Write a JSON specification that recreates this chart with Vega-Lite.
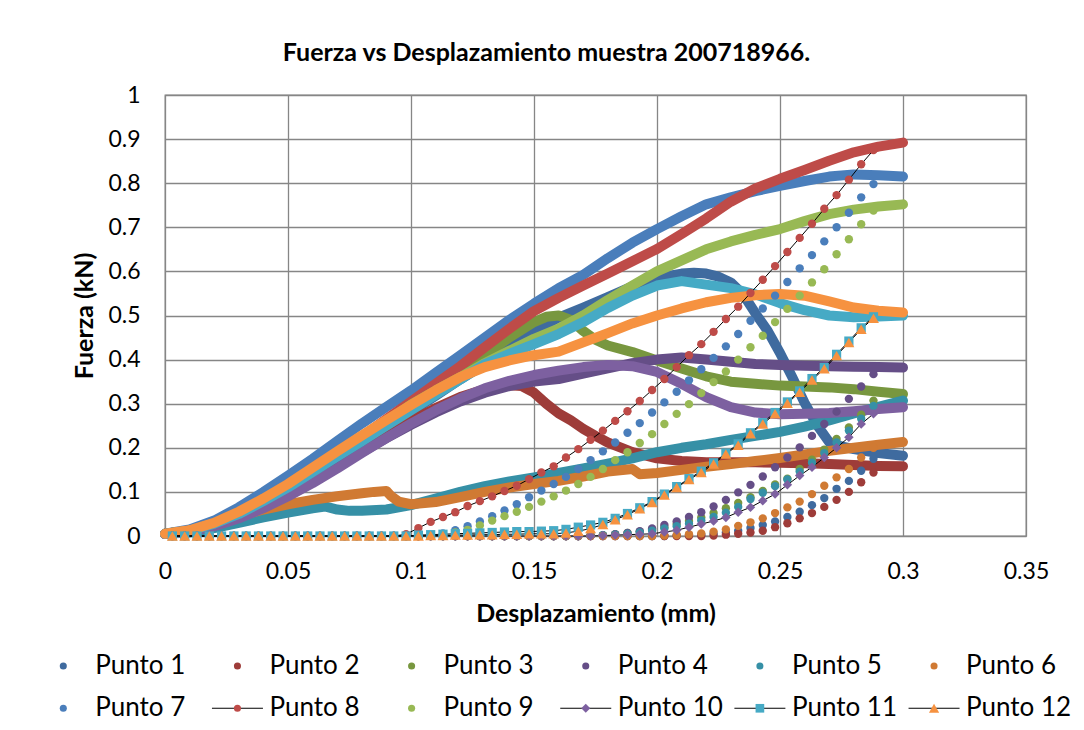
{
  "$schema": "https://vega.github.io/schema/vega-lite/v6.json",
  "autosize": {"type": "none"},
  "padding": {"left": 165, "top": 95, "right": 58, "bottom": 194},
  "width": 861,
  "height": 441,
  "background": "white",
  "title": {"text": "Fuerza vs Desplazamiento muestra 200718966.", "anchor": "middle", "frame": "group", "dx": -49, "offset": 18},
  "config": {
    "font": "Lato",
    "view": {"stroke": "#868686", "strokeWidth": 1.3},
    "axis": {"gridColor": "#868686", "gridWidth": 1.3, "gridOpacity": 1, "domain": false, "ticks": false, "labelColor": "#000000", "titleColor": "#000000", "labelFont": "Lato", "titleFont": "Lato", "labelFontSize": 23, "titleFontSize": 25, "titleFontWeight": "bold", "labelFlush": false, "labelOverlap": false, "labelBound": false},
    "title": {"font": "Lato", "fontSize": 25, "fontWeight": "bold", "color": "#000000"}
  },
  "datasets": {
    "dense": [
      {"s": "Punto 1", "x": [0,0.01,0.02,0.03,0.04,0.05,0.06,0.07,0.08,0.09,0.1,0.11,0.12,0.13,0.14,0.15,0.16,0.17,0.18,0.19,0.2,0.21,0.215,0.22,0.225,0.23,0.235,0.24,0.245,0.25,0.255,0.26,0.265,0.27,0.275,0.28,0.29,0.3],
       "y": [0.005,0.012,0.027,0.048,0.075,0.105,0.138,0.172,0.208,0.245,0.282,0.318,0.355,0.39,0.43,0.465,0.495,0.518,0.542,0.566,0.585,0.595,0.597,0.595,0.588,0.575,0.548,0.505,0.465,0.415,0.36,0.302,0.252,0.213,0.203,0.197,0.188,0.182]},
      {"s": "Punto 2", "x": [0,0.01,0.02,0.03,0.04,0.05,0.06,0.07,0.08,0.09,0.1,0.11,0.12,0.13,0.14,0.145,0.15,0.155,0.16,0.165,0.17,0.175,0.18,0.19,0.2,0.21,0.22,0.23,0.24,0.25,0.26,0.27,0.28,0.29,0.3],
       "y": [0.005,0.01,0.023,0.042,0.067,0.097,0.13,0.163,0.197,0.23,0.262,0.29,0.315,0.333,0.342,0.34,0.325,0.3,0.278,0.262,0.243,0.227,0.212,0.19,0.176,0.17,0.167,0.167,0.167,0.166,0.165,0.163,0.161,0.159,0.158]},
      {"s": "Punto 3", "x": [0,0.01,0.02,0.03,0.04,0.05,0.06,0.07,0.08,0.09,0.1,0.11,0.12,0.13,0.14,0.15,0.155,0.16,0.165,0.17,0.175,0.18,0.19,0.2,0.21,0.22,0.23,0.24,0.25,0.26,0.27,0.28,0.29,0.3],
       "y": [0.005,0.012,0.028,0.05,0.078,0.11,0.145,0.182,0.22,0.258,0.295,0.333,0.37,0.41,0.45,0.485,0.497,0.5,0.49,0.465,0.445,0.432,0.417,0.398,0.38,0.362,0.35,0.345,0.341,0.339,0.337,0.333,0.327,0.322]},
      {"s": "Punto 4", "x": [0,0.01,0.02,0.03,0.04,0.05,0.06,0.07,0.08,0.09,0.1,0.11,0.12,0.13,0.14,0.15,0.16,0.17,0.18,0.19,0.2,0.21,0.22,0.23,0.24,0.25,0.26,0.27,0.28,0.29,0.3],
       "y": [0.005,0.01,0.022,0.04,0.064,0.092,0.123,0.157,0.19,0.222,0.252,0.28,0.305,0.325,0.34,0.35,0.356,0.368,0.38,0.392,0.4,0.405,0.4,0.395,0.39,0.388,0.386,0.385,0.384,0.383,0.382]},
      {"s": "Punto 5", "x": [0,0.01,0.02,0.03,0.04,0.05,0.06,0.065,0.07,0.075,0.08,0.09,0.1,0.11,0.12,0.13,0.14,0.15,0.16,0.17,0.18,0.19,0.2,0.21,0.22,0.23,0.24,0.25,0.26,0.27,0.28,0.29,0.3],
       "y": [0.005,0.008,0.018,0.03,0.042,0.053,0.063,0.067,0.06,0.057,0.057,0.06,0.07,0.085,0.1,0.113,0.124,0.133,0.143,0.153,0.164,0.176,0.19,0.2,0.208,0.218,0.227,0.236,0.248,0.262,0.278,0.293,0.307]},
      {"s": "Punto 6", "x": [0,0.01,0.02,0.03,0.04,0.05,0.06,0.07,0.08,0.085,0.09,0.092,0.095,0.1,0.11,0.12,0.13,0.14,0.15,0.16,0.17,0.18,0.19,0.193,0.2,0.21,0.22,0.23,0.24,0.25,0.26,0.27,0.28,0.29,0.3],
       "y": [0.005,0.012,0.028,0.045,0.06,0.072,0.082,0.09,0.097,0.1,0.102,0.09,0.078,0.072,0.077,0.088,0.1,0.11,0.118,0.125,0.135,0.146,0.152,0.14,0.143,0.15,0.157,0.163,0.17,0.177,0.185,0.193,0.2,0.207,0.213]},
      {"s": "Punto 7", "x": [0,0.01,0.02,0.03,0.04,0.05,0.06,0.07,0.08,0.09,0.1,0.11,0.12,0.13,0.14,0.15,0.16,0.17,0.18,0.19,0.2,0.21,0.22,0.23,0.24,0.25,0.26,0.27,0.28,0.29,0.3],
       "y": [0.005,0.015,0.035,0.065,0.1,0.137,0.175,0.215,0.255,0.293,0.33,0.37,0.41,0.45,0.49,0.527,0.562,0.592,0.63,0.665,0.696,0.725,0.752,0.768,0.782,0.794,0.805,0.815,0.82,0.818,0.815]},
      {"s": "Punto 8", "x": [0,0.01,0.02,0.03,0.04,0.05,0.06,0.07,0.08,0.09,0.1,0.11,0.12,0.13,0.14,0.15,0.16,0.17,0.18,0.19,0.2,0.21,0.22,0.23,0.24,0.25,0.26,0.27,0.28,0.29,0.3],
       "y": [0.005,0.012,0.028,0.05,0.078,0.108,0.145,0.185,0.225,0.265,0.305,0.345,0.385,0.428,0.47,0.51,0.54,0.568,0.595,0.623,0.651,0.685,0.72,0.758,0.788,0.81,0.83,0.851,0.87,0.883,0.892]},
      {"s": "Punto 9", "x": [0,0.01,0.02,0.03,0.04,0.05,0.06,0.07,0.08,0.09,0.1,0.11,0.12,0.13,0.14,0.15,0.16,0.17,0.18,0.19,0.2,0.21,0.22,0.23,0.24,0.25,0.26,0.27,0.28,0.29,0.3],
       "y": [0.005,0.012,0.028,0.05,0.08,0.112,0.148,0.185,0.222,0.26,0.298,0.33,0.36,0.392,0.42,0.447,0.47,0.5,0.535,0.568,0.6,0.625,0.65,0.668,0.683,0.696,0.714,0.73,0.74,0.747,0.752]},
      {"s": "Punto 10", "x": [0,0.01,0.02,0.03,0.04,0.05,0.06,0.07,0.08,0.09,0.1,0.11,0.12,0.13,0.14,0.15,0.16,0.17,0.18,0.19,0.2,0.21,0.22,0.23,0.24,0.25,0.26,0.27,0.28,0.29,0.3],
       "y": [0.005,0.01,0.022,0.04,0.063,0.09,0.12,0.153,0.188,0.222,0.255,0.285,0.312,0.335,0.352,0.365,0.375,0.383,0.388,0.385,0.372,0.345,0.315,0.292,0.28,0.276,0.277,0.279,0.283,0.288,0.292]},
      {"s": "Punto 11", "x": [0,0.01,0.02,0.03,0.04,0.05,0.06,0.07,0.08,0.09,0.1,0.11,0.12,0.13,0.14,0.15,0.16,0.17,0.18,0.19,0.2,0.21,0.22,0.23,0.24,0.25,0.26,0.27,0.28,0.29,0.3],
       "y": [0.005,0.012,0.028,0.05,0.079,0.11,0.145,0.18,0.215,0.25,0.285,0.32,0.355,0.39,0.413,0.435,0.458,0.485,0.517,0.545,0.568,0.578,0.57,0.562,0.548,0.528,0.512,0.5,0.496,0.498,0.5]},
      {"s": "Punto 12", "x": [0,0.01,0.02,0.03,0.04,0.05,0.06,0.07,0.08,0.09,0.1,0.11,0.12,0.13,0.14,0.15,0.16,0.17,0.18,0.19,0.2,0.21,0.22,0.23,0.24,0.25,0.26,0.27,0.28,0.29,0.3],
       "y": [0.005,0.013,0.03,0.055,0.085,0.118,0.155,0.192,0.228,0.263,0.297,0.33,0.36,0.383,0.398,0.41,0.418,0.439,0.46,0.482,0.5,0.516,0.53,0.54,0.546,0.549,0.545,0.532,0.518,0.511,0.507]}
    ],
    "sparse": [
      {"s": "Punto 1", "x": [0.003,0.008,0.013,0.018,0.023,0.028,0.033,0.038,0.043,0.048,0.053,0.058,0.063,0.068,0.073,0.078,0.083,0.088,0.093,0.098,0.103,0.108,0.113,0.118,0.123,0.128,0.133,0.138,0.143,0.148,0.153,0.158,0.163,0.168,0.173,0.178,0.183,0.188,0.193,0.198,0.203,0.208,0.213,0.218,0.223,0.228,0.233,0.238,0.243,0.248,0.253,0.258,0.263,0.268,0.273,0.278,0.283,0.288],
       "y": [0,0,0,0,0,0,0,0,0,0,0,0,0,0,0,0,0,0,0,0,0,0,0,0,0,0,0,0,0,0,0,0,0,0,0,0,0,0,0,0,0,0.001,0.002,0.003,0.005,0.008,0.012,0.018,0.025,0.033,0.043,0.055,0.07,0.086,0.107,0.125,0.148,0.175]},
      {"s": "Punto 2", "x": [0.003,0.008,0.013,0.018,0.023,0.028,0.033,0.038,0.043,0.048,0.053,0.058,0.063,0.068,0.073,0.078,0.083,0.088,0.093,0.098,0.103,0.108,0.113,0.118,0.123,0.128,0.133,0.138,0.143,0.148,0.153,0.158,0.163,0.168,0.173,0.178,0.183,0.188,0.193,0.198,0.203,0.208,0.213,0.218,0.223,0.228,0.233,0.238,0.243,0.248,0.253,0.258,0.263,0.268,0.273,0.278,0.283,0.288],
       "y": [0,0,0,0,0,0,0,0,0,0,0,0,0,0,0,0,0,0,0,0,0,0,0,0,0,0,0,0,0,0,0,0,0,0,0,0,0,0,0,0,0,0,0,0,0.001,0.003,0.005,0.008,0.012,0.02,0.029,0.04,0.052,0.066,0.082,0.1,0.122,0.144]},
      {"s": "Punto 3", "x": [0.003,0.008,0.013,0.018,0.023,0.028,0.033,0.038,0.043,0.048,0.053,0.058,0.063,0.068,0.073,0.078,0.083,0.088,0.093,0.098,0.103,0.108,0.113,0.118,0.123,0.128,0.133,0.138,0.143,0.148,0.153,0.158,0.163,0.168,0.173,0.178,0.183,0.188,0.193,0.198,0.203,0.208,0.213,0.218,0.223,0.228,0.233,0.238,0.243,0.248,0.253,0.258,0.263,0.268,0.273,0.278,0.283,0.288],
       "y": [0,0,0,0,0,0,0,0,0,0,0,0,0,0,0,0,0,0,0,0,0,0,0,0,0,0,0,0,0,0,0,0,0,0,0.001,0.002,0.004,0.007,0.01,0.015,0.02,0.027,0.034,0.042,0.052,0.063,0.075,0.088,0.102,0.117,0.13,0.152,0.173,0.196,0.22,0.246,0.275,0.307]},
      {"s": "Punto 4", "x": [0.003,0.008,0.013,0.018,0.023,0.028,0.033,0.038,0.043,0.048,0.053,0.058,0.063,0.068,0.073,0.078,0.083,0.088,0.093,0.098,0.103,0.108,0.113,0.118,0.123,0.128,0.133,0.138,0.143,0.148,0.153,0.158,0.163,0.168,0.173,0.178,0.183,0.188,0.193,0.198,0.203,0.208,0.213,0.218,0.223,0.228,0.233,0.238,0.243,0.248,0.253,0.258,0.263,0.268,0.273,0.278,0.283,0.288],
       "y": [0,0,0,0,0,0,0,0,0,0,0,0,0,0,0,0,0,0,0,0,0,0,0,0,0,0,0,0,0,0,0,0,0,0,0.001,0.002,0.004,0.007,0.011,0.017,0.025,0.033,0.043,0.054,0.067,0.082,0.099,0.116,0.135,0.156,0.178,0.201,0.227,0.254,0.282,0.311,0.339,0.367]},
      {"s": "Punto 5", "x": [0.003,0.008,0.013,0.018,0.023,0.028,0.033,0.038,0.043,0.048,0.053,0.058,0.063,0.068,0.073,0.078,0.083,0.088,0.093,0.098,0.103,0.108,0.113,0.118,0.123,0.128,0.133,0.138,0.143,0.148,0.153,0.158,0.163,0.168,0.173,0.178,0.183,0.188,0.193,0.198,0.203,0.208,0.213,0.218,0.223,0.228,0.233,0.238,0.243,0.248,0.253,0.258,0.263,0.268,0.273,0.278,0.283,0.288],
       "y": [0,0,0,0,0,0,0,0,0,0,0,0,0,0,0,0,0,0,0,0,0,0,0,0,0,0,0,0,0,0,0,0,0,0,0.001,0.002,0.003,0.005,0.008,0.012,0.017,0.022,0.028,0.035,0.043,0.053,0.066,0.084,0.098,0.113,0.128,0.146,0.166,0.188,0.212,0.239,0.266,0.295]},
      {"s": "Punto 6", "x": [0.003,0.008,0.013,0.018,0.023,0.028,0.033,0.038,0.043,0.048,0.053,0.058,0.063,0.068,0.073,0.078,0.083,0.088,0.093,0.098,0.103,0.108,0.113,0.118,0.123,0.128,0.133,0.138,0.143,0.148,0.153,0.158,0.163,0.168,0.173,0.178,0.183,0.188,0.193,0.198,0.203,0.208,0.213,0.218,0.223,0.228,0.233,0.238,0.243,0.248,0.253,0.258,0.263,0.268,0.273,0.278,0.283,0.288],
       "y": [0,0,0,0,0,0,0,0,0,0,0,0,0,0,0,0,0,0,0,0,0,0,0,0,0,0,0,0,0,0,0,0,0,0,0,0,0,0,0,0,0.001,0.002,0.004,0.006,0.01,0.015,0.023,0.031,0.04,0.052,0.065,0.078,0.095,0.114,0.133,0.152,0.178,0.2]},
      {"s": "Punto 7", "x": [0.003,0.008,0.013,0.018,0.023,0.028,0.033,0.038,0.043,0.048,0.053,0.058,0.063,0.068,0.073,0.078,0.083,0.088,0.093,0.098,0.103,0.108,0.113,0.118,0.123,0.128,0.133,0.138,0.143,0.148,0.153,0.158,0.163,0.168,0.173,0.178,0.183,0.188,0.193,0.198,0.203,0.208,0.213,0.218,0.223,0.228,0.233,0.238,0.243,0.248,0.253,0.258,0.263,0.268,0.273,0.278,0.283,0.288],
       "y": [0,0,0,0,0,0,0,0,0,0,0,0,0,0,0,0,0,0,0,0,0,0.002,0.006,0.013,0.022,0.033,0.045,0.058,0.072,0.088,0.103,0.118,0.134,0.152,0.172,0.192,0.212,0.234,0.256,0.28,0.303,0.327,0.353,0.378,0.404,0.43,0.458,0.488,0.516,0.545,0.576,0.607,0.637,0.668,0.7,0.733,0.768,0.798]},
      {"s": "Punto 8", "x": [0.003,0.008,0.013,0.018,0.023,0.028,0.033,0.038,0.043,0.048,0.053,0.058,0.063,0.068,0.073,0.078,0.083,0.088,0.093,0.098,0.103,0.108,0.113,0.118,0.123,0.128,0.133,0.138,0.143,0.148,0.153,0.158,0.163,0.168,0.173,0.178,0.183,0.188,0.193,0.198,0.203,0.208,0.213,0.218,0.223,0.228,0.233,0.238,0.243,0.248,0.253,0.258,0.263,0.268,0.273,0.278,0.283,0.288],
       "y": [0,0,0,0,0,0,0,0,0,0,0,0,0,0,0,0,0,0,0,0.004,0.018,0.032,0.043,0.054,0.068,0.079,0.09,0.102,0.114,0.129,0.144,0.158,0.178,0.197,0.218,0.239,0.261,0.283,0.306,0.331,0.356,0.383,0.41,0.435,0.463,0.492,0.52,0.551,0.581,0.612,0.644,0.676,0.708,0.742,0.773,0.808,0.843,0.875]},
      {"s": "Punto 9", "x": [0.003,0.008,0.013,0.018,0.023,0.028,0.033,0.038,0.043,0.048,0.053,0.058,0.063,0.068,0.073,0.078,0.083,0.088,0.093,0.098,0.103,0.108,0.113,0.118,0.123,0.128,0.133,0.138,0.143,0.148,0.153,0.158,0.163,0.168,0.173,0.178,0.183,0.188,0.193,0.198,0.203,0.208,0.213,0.218,0.223,0.228,0.233,0.238,0.243,0.248,0.253,0.258,0.263,0.268,0.273,0.278,0.283,0.288],
       "y": [0,0,0,0,0,0,0,0,0,0,0,0,0,0,0,0,0,0,0,0,0,0.002,0.004,0.008,0.014,0.024,0.035,0.045,0.055,0.066,0.078,0.09,0.103,0.118,0.134,0.152,0.172,0.19,0.211,0.231,0.254,0.277,0.299,0.324,0.349,0.373,0.4,0.428,0.454,0.485,0.515,0.545,0.575,0.605,0.639,0.673,0.707,0.738]},
      {"s": "Punto 10", "x": [0.003,0.008,0.013,0.018,0.023,0.028,0.033,0.038,0.043,0.048,0.053,0.058,0.063,0.068,0.073,0.078,0.083,0.088,0.093,0.098,0.103,0.108,0.113,0.118,0.123,0.128,0.133,0.138,0.143,0.148,0.153,0.158,0.163,0.168,0.173,0.178,0.183,0.188,0.193,0.198,0.203,0.208,0.213,0.218,0.223,0.228,0.233,0.238,0.243,0.248,0.253,0.258,0.263,0.268,0.273,0.278,0.283,0.288],
       "y": [0,0,0,0,0,0,0,0,0,0,0,0,0,0,0,0,0,0,0,0,0,0,0,0,0,0,0,0,0,0,0,0,0,0,0,0.001,0.002,0.003,0.004,0.005,0.009,0.013,0.02,0.027,0.034,0.042,0.054,0.065,0.08,0.095,0.116,0.137,0.156,0.178,0.2,0.224,0.254,0.277]},
      {"s": "Punto 11", "x": [0.003,0.008,0.013,0.018,0.023,0.028,0.033,0.038,0.043,0.048,0.053,0.058,0.063,0.068,0.073,0.078,0.083,0.088,0.093,0.098,0.103,0.108,0.113,0.118,0.123,0.128,0.133,0.138,0.143,0.148,0.153,0.158,0.163,0.168,0.173,0.178,0.183,0.188,0.193,0.198,0.203,0.208,0.213,0.218,0.223,0.228,0.233,0.238,0.243,0.248,0.253,0.258,0.263,0.268,0.273,0.278,0.283,0.288],
       "y": [0,0,0,0,0,0,0,0,0,0,0,0,0,0,0,0,0,0,0,0,0.002,0.003,0.004,0.005,0.006,0.007,0.008,0.009,0.01,0.01,0.011,0.012,0.015,0.02,0.025,0.031,0.04,0.051,0.064,0.078,0.095,0.112,0.13,0.147,0.166,0.188,0.209,0.234,0.257,0.28,0.304,0.329,0.357,0.382,0.412,0.442,0.472,0.497]},
      {"s": "Punto 12", "x": [0.003,0.008,0.013,0.018,0.023,0.028,0.033,0.038,0.043,0.048,0.053,0.058,0.063,0.068,0.073,0.078,0.083,0.088,0.093,0.098,0.103,0.108,0.113,0.118,0.123,0.128,0.133,0.138,0.143,0.148,0.153,0.158,0.163,0.168,0.173,0.178,0.183,0.188,0.193,0.198,0.203,0.208,0.213,0.218,0.223,0.228,0.233,0.238,0.243,0.248,0.253,0.258,0.263,0.268,0.273,0.278,0.283,0.288],
       "y": [0,0,0,0,0,0,0,0,0,0,0,0,0,0,0,0,0,0,0,0,0,0.001,0.001,0.002,0.002,0.003,0.003,0.004,0.004,0.005,0.005,0.005,0.007,0.011,0.017,0.026,0.037,0.048,0.062,0.076,0.093,0.11,0.128,0.144,0.163,0.186,0.206,0.232,0.254,0.277,0.301,0.326,0.354,0.379,0.409,0.439,0.469,0.494]}
    ],
    "legend": [
      {"s": "Punto 1", "c": 1, "r": 1}, {"s": "Punto 2", "c": 2, "r": 1}, {"s": "Punto 3", "c": 3, "r": 1},
      {"s": "Punto 4", "c": 4, "r": 1}, {"s": "Punto 5", "c": 5, "r": 1}, {"s": "Punto 6", "c": 6, "r": 1},
      {"s": "Punto 7", "c": 1, "r": 2}, {"s": "Punto 8", "c": 2, "r": 2}, {"s": "Punto 9", "c": 3, "r": 2},
      {"s": "Punto 10", "c": 4, "r": 2}, {"s": "Punto 11", "c": 5, "r": 2}, {"s": "Punto 12", "c": 6, "r": 2}
    ]
  },
  "layer": [
    {
      "encoding": {
        "x": {"field": "x", "type": "quantitative", "scale": {"domain": [0, 0.35], "nice": false},
              "axis": {"title": "Desplazamiento (mm)", "values": [0, 0.05, 0.1, 0.15, 0.2, 0.25, 0.3, 0.35], "format": ".2~f", "labelPadding": 24, "titlePadding": 18, "grid": true}},
        "y": {"field": "y", "type": "quantitative", "scale": {"domain": [0, 1], "nice": false},
              "axis": {"title": "Fuerza (kN)", "values": [0, 0.1, 0.2, 0.3, 0.4, 0.5, 0.6, 0.7, 0.8, 0.9, 1], "format": ".1~f", "labelPadding": 25, "titlePadding": 10, "grid": true}},
        "color": {"field": "s", "type": "nominal", "legend": null,
                  "scale": {"domain": ["Punto 1","Punto 2","Punto 3","Punto 4","Punto 5","Punto 6","Punto 7","Punto 8","Punto 9","Punto 10","Punto 11","Punto 12"],
                            "range": ["#3F6B9F","#9E3C39","#78973F","#654E87","#3690A6","#D07A33","#4A7EBB","#BE4B48","#98B954","#7D60A0","#46AAC5","#F69240"]}}
      },
      "layer": [
        {
          "data": {"name": "dense"},
          "transform": [{"flatten": ["x", "y"]}],
          "mark": {"type": "line", "strokeWidth": 10, "strokeCap": "round", "strokeJoin": "round"}
        },
        {
          "data": {"name": "sparse"},
          "transform": [{"flatten": ["x", "y"]}, {"filter": {"field": "s", "oneOf": ["Punto 8", "Punto 10", "Punto 11", "Punto 12"]}}],
          "mark": {"type": "line", "strokeWidth": 1},
          "encoding": {"color": {"value": "#000000"}, "detail": {"field": "s", "type": "nominal"}}
        },
        {
          "data": {"name": "sparse"},
          "transform": [{"flatten": ["x", "y"]}, {"filter": {"not": {"field": "s", "oneOf": ["Punto 10", "Punto 11", "Punto 12"]}}}],
          "mark": {"type": "point", "filled": true, "opacity": 1, "shape": "circle", "size": 70}
        },
        {
          "data": {"name": "sparse"},
          "transform": [{"flatten": ["x", "y"]}, {"filter": {"field": "s", "equal": "Punto 10"}}],
          "mark": {"type": "point", "filled": true, "opacity": 1, "shape": "diamond", "size": 90}
        },
        {
          "data": {"name": "sparse"},
          "transform": [{"flatten": ["x", "y"]}, {"filter": {"field": "s", "equal": "Punto 11"}}],
          "mark": {"type": "point", "filled": true, "opacity": 1, "shape": "square", "size": 85}
        },
        {
          "data": {"name": "sparse"},
          "transform": [{"flatten": ["x", "y"]}, {"filter": {"field": "s", "equal": "Punto 12"}}],
          "mark": {"type": "point", "filled": true, "opacity": 1, "shape": "triangle-up", "size": 120}
        }
      ]
    },
    {
      "data": {"name": "legend"},
      "encoding": {
        "x": {"field": "c", "type": "quantitative", "axis": null, "scale": {"domain": [1.584, 6.528], "nice": false, "zero": false}},
        "y": {"field": "r", "type": "quantitative", "axis": null, "scale": {"domain": [-12.499, -2.073], "nice": false, "zero": false, "reverse": true}}
      },
      "layer": [
        {
          "transform": [{"filter": {"field": "s", "oneOf": ["Punto 8", "Punto 10", "Punto 11", "Punto 12"]}}],
          "mark": {"type": "tick", "orient": "horizontal", "size": 51, "thickness": 1, "color": "#000000", "opacity": 1}
        },
        {
          "transform": [{"filter": {"not": {"field": "s", "oneOf": ["Punto 10", "Punto 11", "Punto 12"]}}}],
          "mark": {"type": "point", "filled": true, "opacity": 1, "shape": "circle", "size": 50},
          "encoding": {"color": {"field": "s", "type": "nominal", "legend": null}}
        },
        {
          "transform": [{"filter": {"field": "s", "equal": "Punto 10"}}],
          "mark": {"type": "point", "filled": true, "opacity": 1, "shape": "diamond", "size": 80},
          "encoding": {"color": {"field": "s", "type": "nominal", "legend": null}}
        },
        {
          "transform": [{"filter": {"field": "s", "equal": "Punto 11"}}],
          "mark": {"type": "point", "filled": true, "opacity": 1, "shape": "square", "size": 75},
          "encoding": {"color": {"field": "s", "type": "nominal", "legend": null}}
        },
        {
          "transform": [{"filter": {"field": "s", "equal": "Punto 12"}}],
          "mark": {"type": "point", "filled": true, "opacity": 1, "shape": "triangle-up", "size": 105},
          "encoding": {"color": {"field": "s", "type": "nominal", "legend": null}}
        },
        {
          "mark": {"type": "text", "align": "left", "baseline": "middle", "dx": 32, "fontSize": 26, "font": "Lato", "color": "#000000"},
          "encoding": {"text": {"field": "s", "type": "nominal"}}
        }
      ]
    }
  ],
  "resolve": {"scale": {"x": "independent", "y": "independent"}}
}
